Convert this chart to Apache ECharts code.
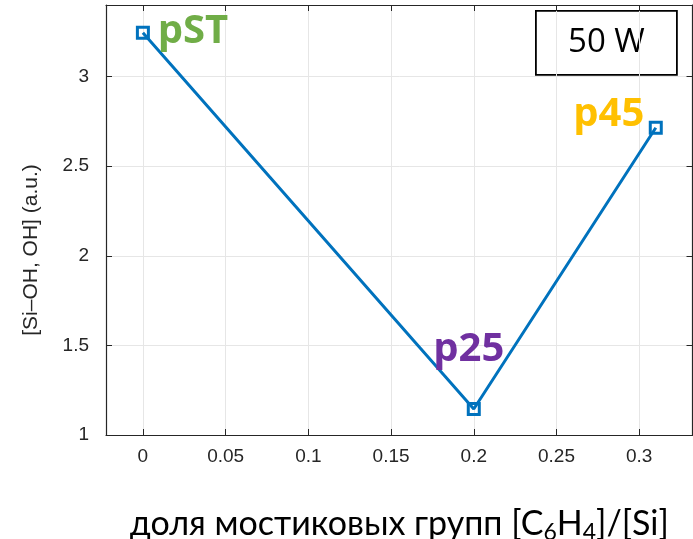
<!DOCTYPE html>
<html>
<head>
<meta charset="utf-8">
<script src="https://cdn.jsdelivr.net/npm/echarts@6/dist/echarts.min.js"></script>
<style>
html,body{margin:0;padding:0;background:#fff;}
#chart{width:693px;height:539px;}
</style>
</head>
<body>
<div id="chart"></div>
<script>
// Data
const xValues = [0, 0.2, 0.31];
const yValues = [3.245, 1.145, 2.715];
const pointNames = ['pST', 'p25', 'p45'];
const pointColors = ['#70AD47', '#7030A0', '#FFC000'];
const xTicks = [0, 0.05, 0.1, 0.15, 0.2, 0.25, 0.3];
const yTicks = [1, 1.5, 2, 2.5, 3];
const xTitle = 'доля мостиковых групп [C{sub|6}H{sub|4}]/[Si]';
const yTitle = '[Si–OH, OH] (a.u.)';
const boxText = '50 W';

const labelOffsets = [[50, -1], [-5, -59], [-47, -13]];

const chart = echarts.init(document.getElementById('chart'), null, {renderer: 'canvas'});

const gridColor = '#e6e6e6';
const axisColor = '#262626';
const tickFont = {fontFamily: 'Liberation Sans, Arial, sans-serif', fontSize: 19, color: '#262626'};

function near(v, arr) { return arr.some(t => Math.abs(t - v) < 1e-6); }
function fmt(v) { return String(+v.toFixed(4)); }

const xMin = -0.0223, xMax = 0.3322;
const yMin = 1, yMax = 3.4;

const commonX = {
  type: 'value', min: xMin, max: xMax, splitNumber: 7,
  axisLine: {show: true, onZero: false, lineStyle: {color: axisColor, width: 1.2}},
  axisTick: {show: true, inside: true, length: 6, lineStyle: {color: axisColor}},
};
const commonY = {
  type: 'value', min: yMin, max: yMax, interval: 0.5,
  axisLine: {show: true, onZero: false, lineStyle: {color: axisColor, width: 1.2}},
  axisTick: {show: true, inside: true, length: 6, lineStyle: {color: axisColor}},
};

const data = xValues.map((x, i) => ({
  value: [x, yValues[i]],
  label: {
    show: true,
    position: 'inside',
    offset: labelOffsets[i],
    formatter: pointNames[i],
    color: pointColors[i],
    fontFamily: 'Open Sans, sans-serif',
    fontWeight: 'bold',
    fontSize: 40
  }
}));

chart.setOption({
  animation: false,
  backgroundColor: '#fff',
  grid: {left: 106, right: 0.5, top: 5, bottom: 104, containLabel: false, outerBoundsMode: 'none'},
  xAxis: [
    Object.assign({}, commonX, {
      position: 'bottom',
      axisLabel: Object.assign({}, tickFont, {
        margin: 12,
        formatter: v => near(v, xTicks) ? fmt(v) : ''
      }),
      splitLine: {show: true, lineStyle: {color: gridColor, width: 1}},
      name: xTitle,
      nameLocation: 'middle',
      nameGap: 70,
      nameTextStyle: {
        fontFamily: 'Lato, Open Sans, sans-serif', fontSize: 34, color: '#000',
        rich: {sub: {fontFamily: 'Lato, Open Sans, sans-serif', fontSize: 23, color: '#000', verticalAlign: 'bottom', padding: [16, 0, 0, 0]}}
      }
    }),
    Object.assign({}, commonX, {
      position: 'top',
      axisLabel: {show: false},
      splitLine: {show: false}
    })
  ],
  yAxis: [
    Object.assign({}, commonY, {
      position: 'left',
      axisLabel: Object.assign({}, tickFont, {
        margin: 17,
        formatter: v => near(v, yTicks) ? fmt(v) : ''
      }),
      splitLine: {show: true, lineStyle: {color: gridColor, width: 1}}
    }),
    Object.assign({}, commonY, {
      position: 'right',
      axisLabel: {show: false},
      splitLine: {show: false}
    })
  ],
  graphic: [
    {
      type: 'text',
      x: 31, y: 250,
      rotation: Math.PI / 2,
      style: {
        text: yTitle,
        fontFamily: 'Liberation Sans, Arial, sans-serif',
        fontSize: 21,
        fill: '#262626',
        textAlign: 'center',
        textVerticalAlign: 'middle'
      }
    },
    {
      type: 'group',
      left: 535, top: 10,
      children: [
        {type: 'rect', shape: {x: 0, y: 0, width: 141, height: 64}, style: {fill: '#fff', stroke: '#000', lineWidth: 1.8}},
        {type: 'text', x: 70.5, y: 32, style: {text: boxText, fontFamily: 'Open Sans, sans-serif', fontSize: 33, fill: '#000', textAlign: 'center', textVerticalAlign: 'middle'}}
      ]
    }
  ],
  series: [{
    type: 'line',
    data: data,
    symbol: 'rect',
    symbolSize: 11,
    showAllSymbol: true,
    lineStyle: {color: '#0072BD', width: 3},
    itemStyle: {color: 'rgba(0,0,0,0)', borderColor: '#0072BD', borderWidth: 3},
    z: 3
  }]
});
</script>
</body>
</html>
